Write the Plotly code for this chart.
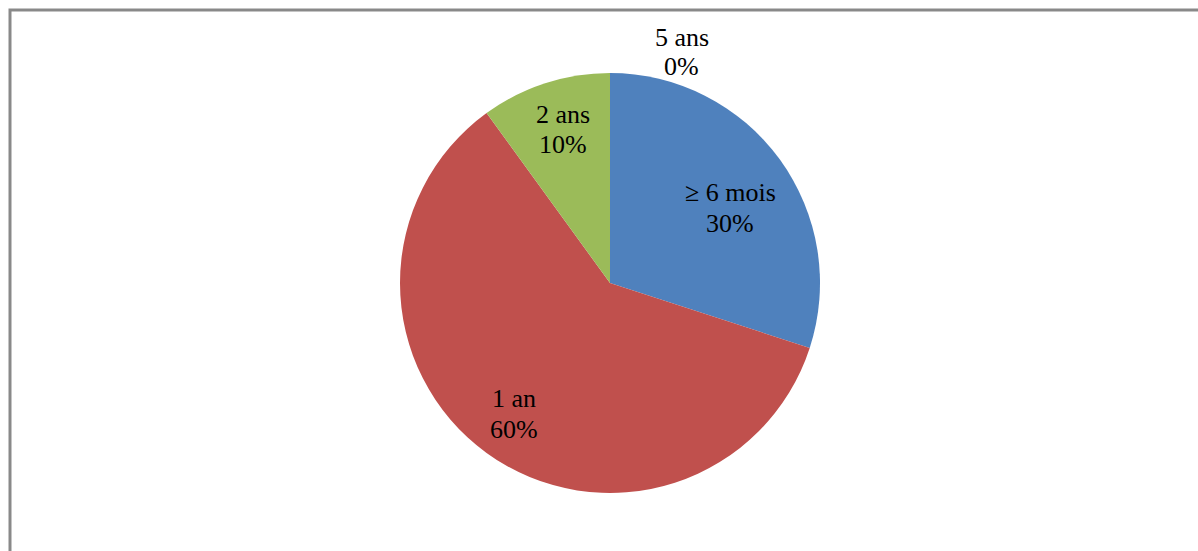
import plotly.graph_objects as go

# Durée — répartition
categories = ["≥ 6 mois", "1 an", "2 ans", "5 ans"]
values = [30, 60, 10, 0]
colors = ["#4F81BD", "#C0504D", "#9BBB59", "#8064A2"]

# Label anchor points (pixels) for each category: name line / percent line
label_px = {
    "≥ 6 mois": (730, 193, 223),
    "1 an": (514, 398, 429),
    "2 ans": (563, 115, 145),
    "5 ans": (682, 37, 67),
}

W, H = 1198, 551
FONT = "Times New Roman, Liberation Serif, serif"

total = sum(values)

fig = go.Figure(
    go.Pie(
        labels=categories,
        values=values,
        sort=False,
        direction="clockwise",
        rotation=0,
        marker=dict(colors=colors, line=dict(width=0)),
        textinfo="none",
        hoverinfo="label+percent",
        showlegend=False,
        domain=dict(x=[400 / W, 820 / W], y=[1 - 493 / H, 1 - 73 / H]),
    )
)

annotations = []
for cat, val in zip(categories, values):
    x, y1, y2 = label_px[cat]
    pct = f"{round(100 * val / total)}%"
    for txt, yy in ((cat, y1), (pct, y2)):
        annotations.append(
            dict(
                x=x / W, y=1 - yy / H, xref="paper", yref="paper",
                text=txt, showarrow=False,
                xanchor="center", yanchor="middle",
                font=dict(family=FONT, size=26, color="#000000"),
            )
        )

fig.update_layout(
    width=W,
    height=H,
    margin=dict(l=0, r=0, t=0, b=0),
    paper_bgcolor="#ffffff",
    plot_bgcolor="#ffffff",
    font=dict(family=FONT),
    annotations=annotations,
    shapes=[
        dict(
            type="rect", xref="paper", yref="paper",
            x0=10 / W, x1=1210 / W, y0=1 - 570 / H, y1=1 - 10 / H,
            line=dict(color="#898989", width=3),
            fillcolor="rgba(0,0,0,0)",
        )
    ],
)

fig.write_html("out.html")
